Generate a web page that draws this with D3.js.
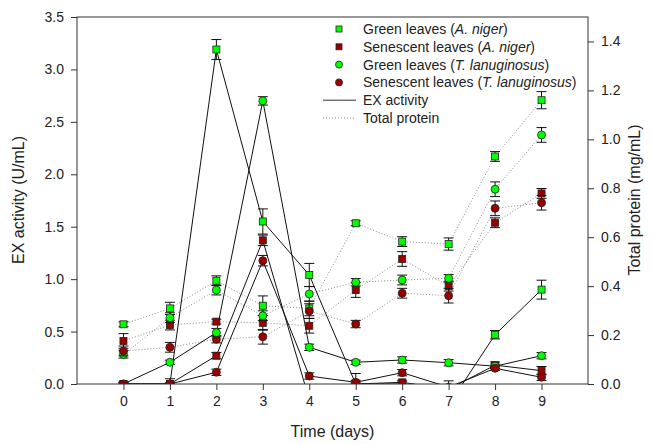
<!DOCTYPE html>
<html>
<head>
<meta charset="utf-8">
<script src="https://cdn.jsdelivr.net/npm/d3@7"></script>
<style>
  body { margin: 0; background: #fff; }
  svg { display: block; font-family: "Liberation Sans", Arial, sans-serif; }
</style>
</head>
<body>
<div id="chart"></div>
<script>
// Time axis (days)
const days = [0, 1, 2, 3, 4, 5, 6, 7, 8, 9];

// EX activity (U/mL), left axis
const exGreenNiger = [0, 0, 3.19, 1.55, 1.04, 0, 0, -0.2, 0.47, 0.9];
const exGreenNigerErr = [0.02, 0.05, 0.095, 0.12, 0.11, 0.1, 0.02, 0.05, 0.04, 0.09];
const exSenNiger = [0, 0, 0.27, 1.37, -0.15, 0, 0.016, -0.05, 0.18, 0.127];
const exSenNigerErr = [0.01, 0.01, 0.03, 0.05, 0.03, 0.01, 0.02, 0.02, 0.03, 0.04];
const exGreenLan = [0, 0.207, 0.49, 2.7, 0.35, 0.207, 0.229, 0.203, 0.17, 0.27];
const exGreenLanErr = [0.01, 0.02, 0.04, 0.04, 0.03, 0.02, 0.03, 0.03, 0.02, 0.03];
const exSenLan = [0, 0, 0.112, 1.176, 0.076, 0.016, 0.108, -0.03, 0.15, 0.064];
const exSenLanErr = [0.01, 0.01, 0.03, 0.05, 0.03, 0.02, 0.03, 0.06, 0.02, 0.03];

// Total protein (mg/mL), right axis
const tpGreenNiger = [0.244, 0.309, 0.422, 0.32, 0.309, 0.657, 0.582, 0.572, 0.93, 1.16];
const tpGreenNigerErr = [0.01, 0.025, 0.02, 0.04, 0.03, 0.01, 0.02, 0.025, 0.02, 0.035];
const tpSenNiger = [0.176, 0.241, 0.255, 0.25, 0.238, 0.384, 0.511, 0.4, 0.659, 0.779];
const tpSenNigerErr = [0.03, 0.02, 0.01, 0.03, 0.03, 0.03, 0.03, 0.02, 0.02, 0.02];
const tpGreenLan = [0.121, 0.271, 0.384, 0.279, 0.368, 0.416, 0.425, 0.432, 0.796, 1.018];
const tpGreenLanErr = [0.015, 0.02, 0.02, 0.02, 0.03, 0.015, 0.02, 0.015, 0.03, 0.03];
const tpSenLan = [0.135, 0.15, 0.183, 0.193, 0.298, 0.245, 0.371, 0.361, 0.718, 0.741];
const tpSenLanErr = [0.02, 0.02, 0.015, 0.03, 0.03, 0.015, 0.02, 0.03, 0.03, 0.03];

const leftTicks = [0, 0.5, 1, 1.5, 2, 2.5, 3, 3.5];
const rightTicks = [0, 0.2, 0.4, 0.6, 0.8, 1.0, 1.2, 1.4];

const width = 652;
const height = 444;
const margin = { top: 17, right: 64, bottom: 60, left: 77 };

const green = "#00ff00";
const red = "#9a0000";

const x = d3.scaleLinear()
    .domain([-1, 10])
    .range([margin.left, width - margin.right]);

const yL = d3.scaleLinear()
    .domain([0, 3.5])
    .range([height - margin.bottom, margin.top]);

const yR = d3.scaleLinear()
    .domain([0, 1.5])
    .range([height - margin.bottom, margin.top]);

const svg = d3.select("#chart").append("svg")
    .attr("width", width)
    .attr("height", height);

svg.append("clipPath")
    .attr("id", "plot-clip")
    .append("rect")
    .attr("x", margin.left)
    .attr("y", margin.top)
    .attr("width", width - margin.right - margin.left)
    .attr("height", height - margin.bottom - margin.top);

const series = [
    { vals: tpGreenNiger, err: tpGreenNigerErr, y: yR, fill: green, shape: "square", dotted: true },
    { vals: tpSenNiger, err: tpSenNigerErr, y: yR, fill: red, shape: "square", dotted: true },
    { vals: tpGreenLan, err: tpGreenLanErr, y: yR, fill: green, shape: "circle", dotted: true },
    { vals: tpSenLan, err: tpSenLanErr, y: yR, fill: red, shape: "circle", dotted: true },
    { vals: exGreenNiger, err: exGreenNigerErr, y: yL, fill: green, shape: "square", dotted: false },
    { vals: exSenNiger, err: exSenNigerErr, y: yL, fill: red, shape: "square", dotted: false },
    { vals: exGreenLan, err: exGreenLanErr, y: yL, fill: green, shape: "circle", dotted: false },
    { vals: exSenLan, err: exSenLanErr, y: yL, fill: red, shape: "circle", dotted: false }
];

const plot = svg.append("g").attr("clip-path", "url(#plot-clip)");

// lines first, then error bars and symbols on top
series.forEach(s => {
    const line = d3.line()
        .x((d, i) => x(days[i]))
        .y(d => s.y(d));
    plot.append("path")
        .datum(s.vals)
        .attr("fill", "none")
        .attr("stroke", s.dotted ? "#888" : "#111")
        .attr("stroke-width", 1)
        .attr("stroke-dasharray", s.dotted ? "1,2" : null)
        .attr("d", line);
});

function drawSymbol(g, shape, fill, cx, cy, size) {
    if (shape === "square") {
        g.append("rect")
            .attr("x", cx - size / 2)
            .attr("y", cy - size / 2)
            .attr("width", size)
            .attr("height", size)
            .attr("fill", fill)
            .attr("stroke", "#222")
            .attr("stroke-width", 0.8);
    } else {
        g.append("circle")
            .attr("cx", cx)
            .attr("cy", cy)
            .attr("r", size / 2 + 0.5)
            .attr("fill", fill)
            .attr("stroke", "#222")
            .attr("stroke-width", 0.8);
    }
}

series.forEach(s => {
    const g = plot.append("g");
    s.vals.forEach((v, i) => {
        const cx = x(days[i]);
        const lo = s.y(v - s.err[i]);
        const hi = s.y(v + s.err[i]);
        g.append("line")
            .attr("x1", cx).attr("x2", cx)
            .attr("y1", lo).attr("y2", hi)
            .attr("stroke", "#111");
        [lo, hi].forEach(yy => {
            g.append("line")
                .attr("x1", cx - 5).attr("x2", cx + 5)
                .attr("y1", yy).attr("y2", yy)
                .attr("stroke", "#111");
        });
        drawSymbol(g, s.shape, s.fill, cx, s.y(v), 7);
    });
});

// frame
svg.append("rect")
    .attr("x", margin.left)
    .attr("y", margin.top)
    .attr("width", width - margin.right - margin.left)
    .attr("height", height - margin.bottom - margin.top)
    .attr("fill", "none")
    .attr("stroke", "#333")
    .attr("stroke-width", 1);

const axisStyle = g => {
    g.select(".domain").remove();
    g.selectAll("line").attr("stroke", "#333");
    g.selectAll("text").attr("fill", "#222").style("font-size", "14px");
};

svg.append("g")
    .attr("transform", `translate(0,${height - margin.bottom})`)
    .call(d3.axisBottom(x).tickValues(days).tickSize(6).tickPadding(6).tickFormat(d3.format("d")))
    .call(axisStyle);

svg.append("g")
    .attr("transform", `translate(${margin.left},0)`)
    .call(d3.axisLeft(yL).tickValues(leftTicks).tickSize(6).tickPadding(7).tickFormat(d3.format(".1f")))
    .call(axisStyle);

svg.append("g")
    .attr("transform", `translate(${width - margin.right},0)`)
    .call(d3.axisRight(yR).tickValues(rightTicks).tickSize(6).tickPadding(7).tickFormat(d3.format(".1f")))
    .call(axisStyle);

// axis titles
svg.append("text")
    .attr("x", (margin.left + width - margin.right) / 2)
    .attr("y", 437)
    .attr("text-anchor", "middle")
    .style("font-size", "16px")
    .attr("fill", "#222")
    .text("Time (days)");

svg.append("text")
    .attr("transform", "rotate(-90)")
    .attr("x", -200)
    .attr("y", 24)
    .attr("text-anchor", "middle")
    .style("font-size", "16px")
    .attr("fill", "#222")
    .text("EX activity (U/mL)");

svg.append("text")
    .attr("transform", "rotate(-90)")
    .attr("x", -200)
    .attr("y", 640)
    .attr("text-anchor", "middle")
    .style("font-size", "16px")
    .attr("fill", "#222")
    .text("Total protein (mg/mL)");

// legend
const legendItems = [
    { type: "square", fill: green, parts: ["Green leaves (", "A. niger", ")"] },
    { type: "square", fill: red, parts: ["Senescent leaves (", "A. niger", ")"] },
    { type: "circle", fill: green, parts: ["Green leaves (", "T. lanuginosus", ")"] },
    { type: "circle", fill: red, parts: ["Senescent leaves (", "T. lanuginosus", ")"] },
    { type: "solid", parts: ["EX activity"] },
    { type: "dotted", parts: ["Total protein"] }
];

const legend = svg.append("g");

legendItems.forEach((d, i) => {
    const yy = 29 + i * 17.8;
    if (d.type === "square" || d.type === "circle") {
        drawSymbol(legend, d.type, d.fill, 339, yy, 6);
    } else {
        legend.append("line")
            .attr("x1", 323).attr("x2", 356)
            .attr("y1", yy).attr("y2", yy)
            .attr("stroke", d.type === "solid" ? "#333" : "#888")
            .attr("stroke-dasharray", d.type === "dotted" ? "1,2" : null);
    }
    const t = legend.append("text")
        .attr("x", 363)
        .attr("y", yy + 5)
        .style("font-size", "14px")
        .attr("fill", "#222");
    d.parts.forEach((p, j) => {
        t.append("tspan")
            .style("font-style", j === 1 ? "italic" : "normal")
            .text(p);
    });
});
</script>
</body>
</html>
